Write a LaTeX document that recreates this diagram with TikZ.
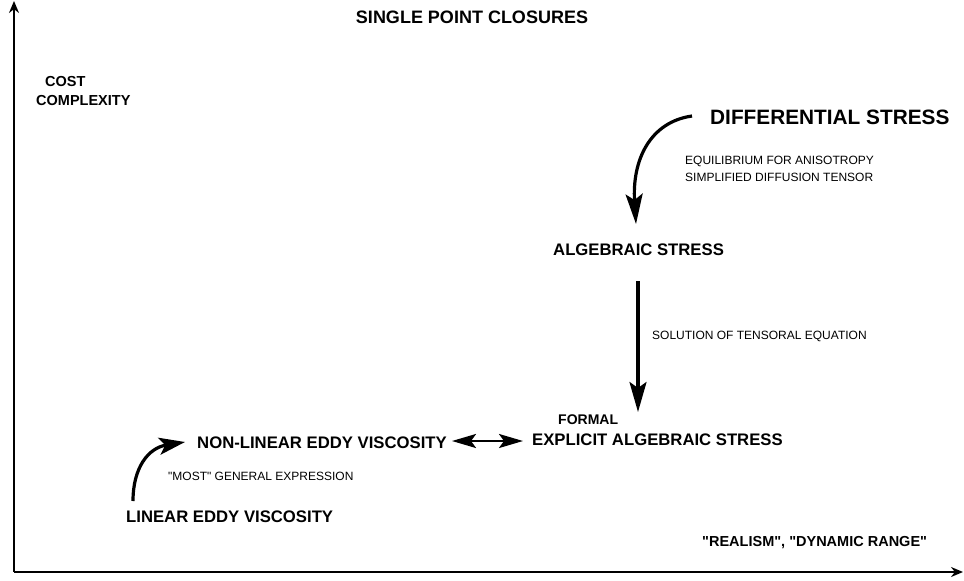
\documentclass[tikz,border=0pt]{standalone}
\usepackage{fontspec}
\setmainfont{Liberation Sans}
\usetikzlibrary{arrows.meta}
\newcommand{\dq}{\textquotedbl}
\begin{document}
\begin{tikzpicture}[x=1pt,y=-1pt,
  big/.style={font=\fontsize{16.7}{18}\selectfont\bfseries, inner sep=0pt, anchor=west},
  huge/.style={font=\fontsize{20.8}{22}\selectfont\bfseries, inner sep=0pt, anchor=west},
  lab/.style={font=\fontsize{12}{14}\selectfont, inner sep=0pt, anchor=west},
  axlab/.style={font=\fontsize{14.5}{16}\selectfont\bfseries, inner sep=0pt, anchor=west},
  conn/.style={line width=3.2pt, -{Stealth[length=30pt,width=17pt,inset=6pt]}},
  axis/.style={line width=1.8pt, -{Stealth[length=12pt,width=10pt]}}]
\useasboundingbox (0,0) rectangle (964,581);
\coordinate (o) at (14,572);
\coordinate (ytop) at (14,1);
\coordinate (xend) at (963,572);
\draw[axis] (o) -- (ytop);
\draw[axis] (o) -- (xend);
\node[font=\fontsize{18}{20}\selectfont\bfseries, inner sep=0pt] (title) at (472,17) {SINGLE POINT CLOSURES};
\node[axlab] (cost) at (45,82) {COST};
\node[axlab] (cplx) at (36,101) {COMPLEXITY};
\node[huge] (diff) at (710,117) {DIFFERENTIAL STRESS};
\node[lab] (eq1) at (685,161) {EQUILIBRIUM FOR ANISOTROPY};
\node[lab] (eq2) at (685,177) {SIMPLIFIED DIFFUSION TENSOR};
\node[big] (alg) at (553,250) {ALGEBRAIC STRESS};
\node[lab] (sol) at (652,336) {SOLUTION OF TENSORAL EQUATION};
\node[font=\fontsize{14}{16}\selectfont\bfseries, inner sep=0pt, anchor=west] (formal) at (558,420) {FORMAL};
\node[big] (expl) at (532,440) {EXPLICIT ALGEBRAIC STRESS};
\node[big] (nonlin) at (197,443) {NON-LINEAR EDDY VISCOSITY};
\node[lab] (most) at (168,476) {\dq MOST\dq\ GENERAL EXPRESSION};
\node[big] (lin) at (126,517) {LINEAR EDDY VISCOSITY};
\node[axlab] (real) at (702,543) {\dq REALISM\dq, \dq DYNAMIC RANGE\dq};
\coordinate (c1s) at (692,116);
\coordinate (c1e) at (636,224);
\draw[conn] (c1s) .. controls (650,122) and (632,160) .. (c1e);
\coordinate (v1s) at (638,281);
\coordinate (v1e) at (638,412);
\draw[conn] (v1s) -- (v1e);
\coordinate (d1) at (452,441);
\coordinate (d2) at (523,441);
\draw[line width=2.4pt, {Stealth[length=24pt,width=14pt,inset=5pt]}-{Stealth[length=24pt,width=14pt,inset=5pt]}] (d1) -- (d2);
\coordinate (c2s) at (133,501);
\coordinate (c2e) at (185,442);
\draw[line width=3.2pt, -{Stealth[length=26pt,width=17pt,inset=6pt]}] (c2s) .. controls (133,468) and (148,448) .. (c2e);
\end{tikzpicture}
\end{document}
